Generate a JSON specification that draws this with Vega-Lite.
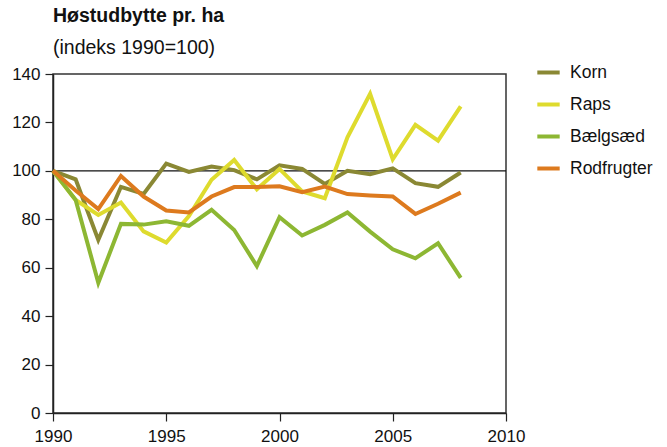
{
  "$schema": "https://vega.github.io/schema/vega-lite/v6.json",
  "width": 453,
  "height": 339,
  "autosize": {"type": "none"},
  "padding": {"left": 53, "top": 74, "right": 161, "bottom": 34},
  "background": "white",
  "config": {
    "font": "Liberation Sans",
    "view": {"stroke": "#333333", "strokeWidth": 1.5},
    "axis": {"grid": false, "domainColor": "#222222", "tickColor": "#222222", "domainWidth": 1.5, "tickWidth": 1.2, "labelColor": "#111111", "labelFontSize": 17, "titleFontSize": 17}
  },
  "title": {
    "text": "Høstudbytte pr. ha",
    "subtitle": "(indeks 1990=100)",
    "anchor": "start",
    "frame": "group",
    "fontSize": 19.5,
    "fontWeight": "bold",
    "color": "#111111",
    "subtitleFontSize": 19.5,
    "subtitleColor": "#111111",
    "subtitlePadding": 12,
    "offset": 1
  },
  "data": {
    "values": [
      {"year": 1990, "crop": "Korn", "v": 100}, {"year": 1991, "crop": "Korn", "v": 96.5}, {"year": 1992, "crop": "Korn", "v": 71.5}, {"year": 1993, "crop": "Korn", "v": 93.4}, {"year": 1994, "crop": "Korn", "v": 90.5}, {"year": 1995, "crop": "Korn", "v": 103}, {"year": 1996, "crop": "Korn", "v": 99.6}, {"year": 1997, "crop": "Korn", "v": 101.8}, {"year": 1998, "crop": "Korn", "v": 100.3}, {"year": 1999, "crop": "Korn", "v": 96.5}, {"year": 2000, "crop": "Korn", "v": 102.3}, {"year": 2001, "crop": "Korn", "v": 100.8}, {"year": 2002, "crop": "Korn", "v": 94.6}, {"year": 2003, "crop": "Korn", "v": 100}, {"year": 2004, "crop": "Korn", "v": 98.6}, {"year": 2005, "crop": "Korn", "v": 101}, {"year": 2006, "crop": "Korn", "v": 94.9}, {"year": 2007, "crop": "Korn", "v": 93.4}, {"year": 2008, "crop": "Korn", "v": 99.3},
      {"year": 1990, "crop": "Raps", "v": 100}, {"year": 1991, "crop": "Raps", "v": 88}, {"year": 1992, "crop": "Raps", "v": 81.8}, {"year": 1993, "crop": "Raps", "v": 86.9}, {"year": 1994, "crop": "Raps", "v": 75}, {"year": 1995, "crop": "Raps", "v": 70.4}, {"year": 1996, "crop": "Raps", "v": 81.3}, {"year": 1997, "crop": "Raps", "v": 96.3}, {"year": 1998, "crop": "Raps", "v": 104.5}, {"year": 1999, "crop": "Raps", "v": 92.4}, {"year": 2000, "crop": "Raps", "v": 100.8}, {"year": 2001, "crop": "Raps", "v": 91.5}, {"year": 2002, "crop": "Raps", "v": 88.7}, {"year": 2003, "crop": "Raps", "v": 113.9}, {"year": 2004, "crop": "Raps", "v": 131.8}, {"year": 2005, "crop": "Raps", "v": 104.8}, {"year": 2006, "crop": "Raps", "v": 119}, {"year": 2007, "crop": "Raps", "v": 112.5}, {"year": 2008, "crop": "Raps", "v": 126.6},
      {"year": 1990, "crop": "Bælgsæd", "v": 100}, {"year": 1991, "crop": "Bælgsæd", "v": 88}, {"year": 1992, "crop": "Bælgsæd", "v": 53.8}, {"year": 1993, "crop": "Bælgsæd", "v": 78.1}, {"year": 1994, "crop": "Bælgsæd", "v": 77.8}, {"year": 1995, "crop": "Bælgsæd", "v": 79.2}, {"year": 1996, "crop": "Bælgsæd", "v": 77.3}, {"year": 1997, "crop": "Bælgsæd", "v": 83.9}, {"year": 1998, "crop": "Bælgsæd", "v": 75.6}, {"year": 1999, "crop": "Bælgsæd", "v": 60.7}, {"year": 2000, "crop": "Bælgsæd", "v": 80.9}, {"year": 2001, "crop": "Bælgsæd", "v": 73.3}, {"year": 2002, "crop": "Bælgsæd", "v": 77.7}, {"year": 2003, "crop": "Bælgsæd", "v": 82.8}, {"year": 2004, "crop": "Bælgsæd", "v": 74.9}, {"year": 2005, "crop": "Bælgsæd", "v": 67.6}, {"year": 2006, "crop": "Bælgsæd", "v": 63.9}, {"year": 2007, "crop": "Bælgsæd", "v": 70.1}, {"year": 2008, "crop": "Bælgsæd", "v": 55.8},
      {"year": 1990, "crop": "Rodfrugter", "v": 100}, {"year": 1991, "crop": "Rodfrugter", "v": 91.9}, {"year": 1992, "crop": "Rodfrugter", "v": 84.2}, {"year": 1993, "crop": "Rodfrugter", "v": 97.9}, {"year": 1994, "crop": "Rodfrugter", "v": 89.4}, {"year": 1995, "crop": "Rodfrugter", "v": 83.6}, {"year": 1996, "crop": "Rodfrugter", "v": 82.8}, {"year": 1997, "crop": "Rodfrugter", "v": 89.4}, {"year": 1998, "crop": "Rodfrugter", "v": 93.3}, {"year": 1999, "crop": "Rodfrugter", "v": 93.3}, {"year": 2000, "crop": "Rodfrugter", "v": 93.6}, {"year": 2001, "crop": "Rodfrugter", "v": 91.2}, {"year": 2002, "crop": "Rodfrugter", "v": 93.5}, {"year": 2003, "crop": "Rodfrugter", "v": 90.4}, {"year": 2004, "crop": "Rodfrugter", "v": 89.8}, {"year": 2005, "crop": "Rodfrugter", "v": 89.4}, {"year": 2006, "crop": "Rodfrugter", "v": 82.2}, {"year": 2007, "crop": "Rodfrugter", "v": 86.4}, {"year": 2008, "crop": "Rodfrugter", "v": 91}
    ]
  },
  "layer": [
    {
      "data": {"values": [{"ref": 100}]},
      "mark": {"type": "rule", "color": "#111111", "strokeWidth": 1.3},
      "encoding": {"y": {"field": "ref", "type": "quantitative", "scale": {"domain": [0, 140]}}}
    },
    {
      "mark": {"type": "line", "strokeWidth": 4, "strokeJoin": "miter", "strokeCap": "butt"},
      "encoding": {
        "x": {"field": "year", "type": "quantitative", "scale": {"domain": [1990, 2010], "nice": false, "zero": false},
              "axis": {"values": [1990, 1995, 2000, 2005, 2010], "format": "d", "title": null, "tickSize": 8, "labelPadding": 7, "labelFlush": false}},
        "y": {"field": "v", "type": "quantitative", "scale": {"domain": [0, 140], "nice": false},
              "axis": {"values": [0, 20, 40, 60, 80, 100, 120, 140], "title": null, "tickSize": 8, "labelPadding": 5}},
        "color": {"field": "crop", "type": "nominal",
                  "scale": {"domain": ["Korn", "Raps", "Bælgsæd", "Rodfrugter"], "range": ["#8a8834", "#dedb2e", "#8db733", "#dd7a1e"]},
                  "legend": {"title": null, "orient": "none", "legendX": 482, "legendY": -15, "symbolType": "stroke", "symbolStrokeWidth": 4, "symbolSize": 500, "labelFontSize": 17.5, "labelColor": "#111111", "rowPadding": 10, "labelOffset": 8}}
      }
    }
  ]
}
